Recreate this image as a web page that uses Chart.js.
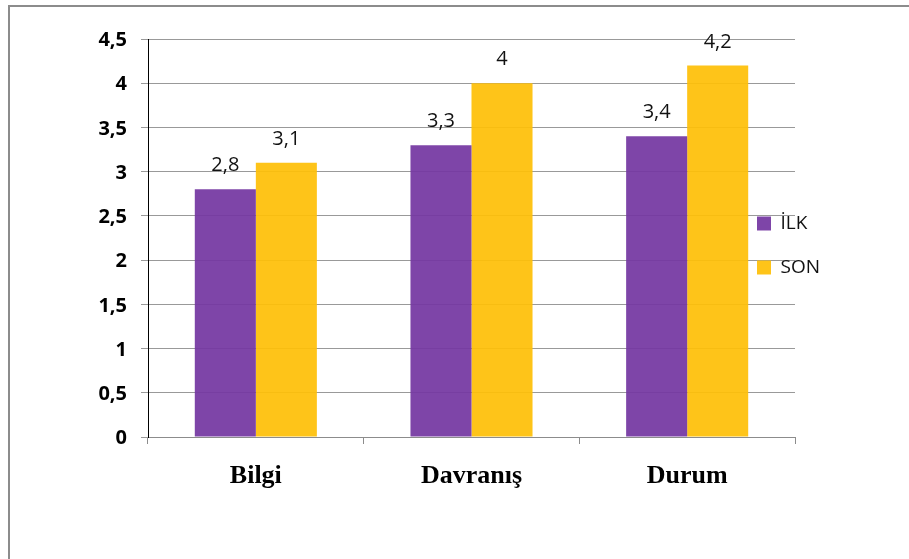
<!DOCTYPE html>
<html>
<head>
<meta charset="utf-8">
<script src="https://cdn.jsdelivr.net/npm/chart.js@4/dist/chart.umd.min.js"></script>
<style>
  html, body { margin: 0; padding: 0; background: #fff; }
  #wrap { position: relative; width: 909px; height: 559px; overflow: hidden; }
  #frame { position: absolute; left: 8px; top: 5px; width: 1000px; height: 1000px;
           border-left: 2px solid #8c8c8c; border-top: 2px solid #8c8c8c; box-sizing: border-box; }
  canvas { position: absolute; left: 0; top: 0; }
</style>
</head>
<body>
<div id="wrap">
  <div id="frame"></div>
  <canvas id="chart" width="909" height="559"></canvas>
</div>
<script>
// values
const categories = ['Bilgi', 'Davranış', 'Durum'];
const ilkValues = [2.8, 3.3, 3.4];
const sonValues = [3.1, 4.0, 4.2];
const seriesNames = ['İLK', 'SON'];
const yTickLabels = ['0', '0,5', '1', '1,5', '2', '2,5', '3', '3,5', '4', '4,5'];

const purple = 'rgba(116, 55, 161, 0.93)';
const yellow = 'rgba(254, 192, 7, 0.93)';

// value labels above each bar (Turkish decimal comma)
const barLabels = {
    id: 'barLabels',
    afterDatasetsDraw(chart) {
        const ctx = chart.ctx;
        ctx.save();
        ctx.font = '20px "Open Sans", "Noto Sans", sans-serif';
        ctx.fillStyle = '#111';
        ctx.textAlign = 'center';
        ctx.textBaseline = 'alphabetic';
        chart.data.datasets.forEach((ds, i) => {
            chart.getDatasetMeta(i).data.forEach((bar, j) => {
                ctx.fillText(String(ds.data[j]).replace('.', ','), bar.x, bar.y - 18);
            });
        });
        ctx.restore();
    }
};

// the legend sits inside the plot's right edge in the original
const legendInside = {
    id: 'legendInside',
    afterLayout(chart) {
        const lg = chart.legend;
        if (!lg) return;
        lg.left = 732;
        lg.right = 832;
        lg.top = 189;
        lg.bottom = 420;
    }
};

new Chart(document.getElementById('chart'), {
    type: 'bar',
    data: {
        labels: categories,
        datasets: [
            { label: seriesNames[0], data: ilkValues, backgroundColor: purple, borderWidth: 0 },
            { label: seriesNames[1], data: sonValues, backgroundColor: yellow, borderWidth: 0 }
        ]
    },
    options: {
        responsive: false,
        animation: false,
        devicePixelRatio: 1,
        layout: { padding: { left: 0, top: 39, right: 113, bottom: 42 } },
        datasets: { bar: { categoryPercentage: 0.566, barPercentage: 1 } },
        plugins: {
            tooltip: { enabled: false },
            legend: {
                position: 'right',
                align: 'start',
                maxWidth: 1,
                labels: {
                    boxWidth: 14,
                    boxHeight: 14,
                    padding: 25,
                    color: '#111',
                    font: { family: '"Open Sans", "Noto Sans", sans-serif', size: 19 }
                }
            }
        },
        scales: {
            x: {
                grid: { drawOnChartArea: false, drawTicks: true, tickLength: 7, color: '#8c8c8c' },
                border: { color: '#8c8c8c', width: 1 },
                ticks: {
                    padding: 17,
                    color: '#000',
                    font: { family: '"Liberation Serif", "Times New Roman", serif', size: 26, weight: 'bold' }
                },
                afterFit(scale) { scale.height = 80; }
            },
            y: {
                min: 0,
                max: 4.5,
                ticks: {
                    stepSize: 0.5,
                    padding: 14,
                    labelOffset: 1.5,
                    color: '#000',
                    font: { family: '"Open Sans", "Noto Sans", sans-serif', size: 20, weight: 'bold' },
                    callback: (v, i) => yTickLabels[i]
                },
                grid: { color: '#999999', lineWidth: 1, tickLength: 7 },
                border: { color: '#000', width: 1 },
                afterFit(scale) { scale.width = 148; }
            }
        }
    },
    plugins: [barLabels, legendInside]
});
</script>
</body>
</html>
